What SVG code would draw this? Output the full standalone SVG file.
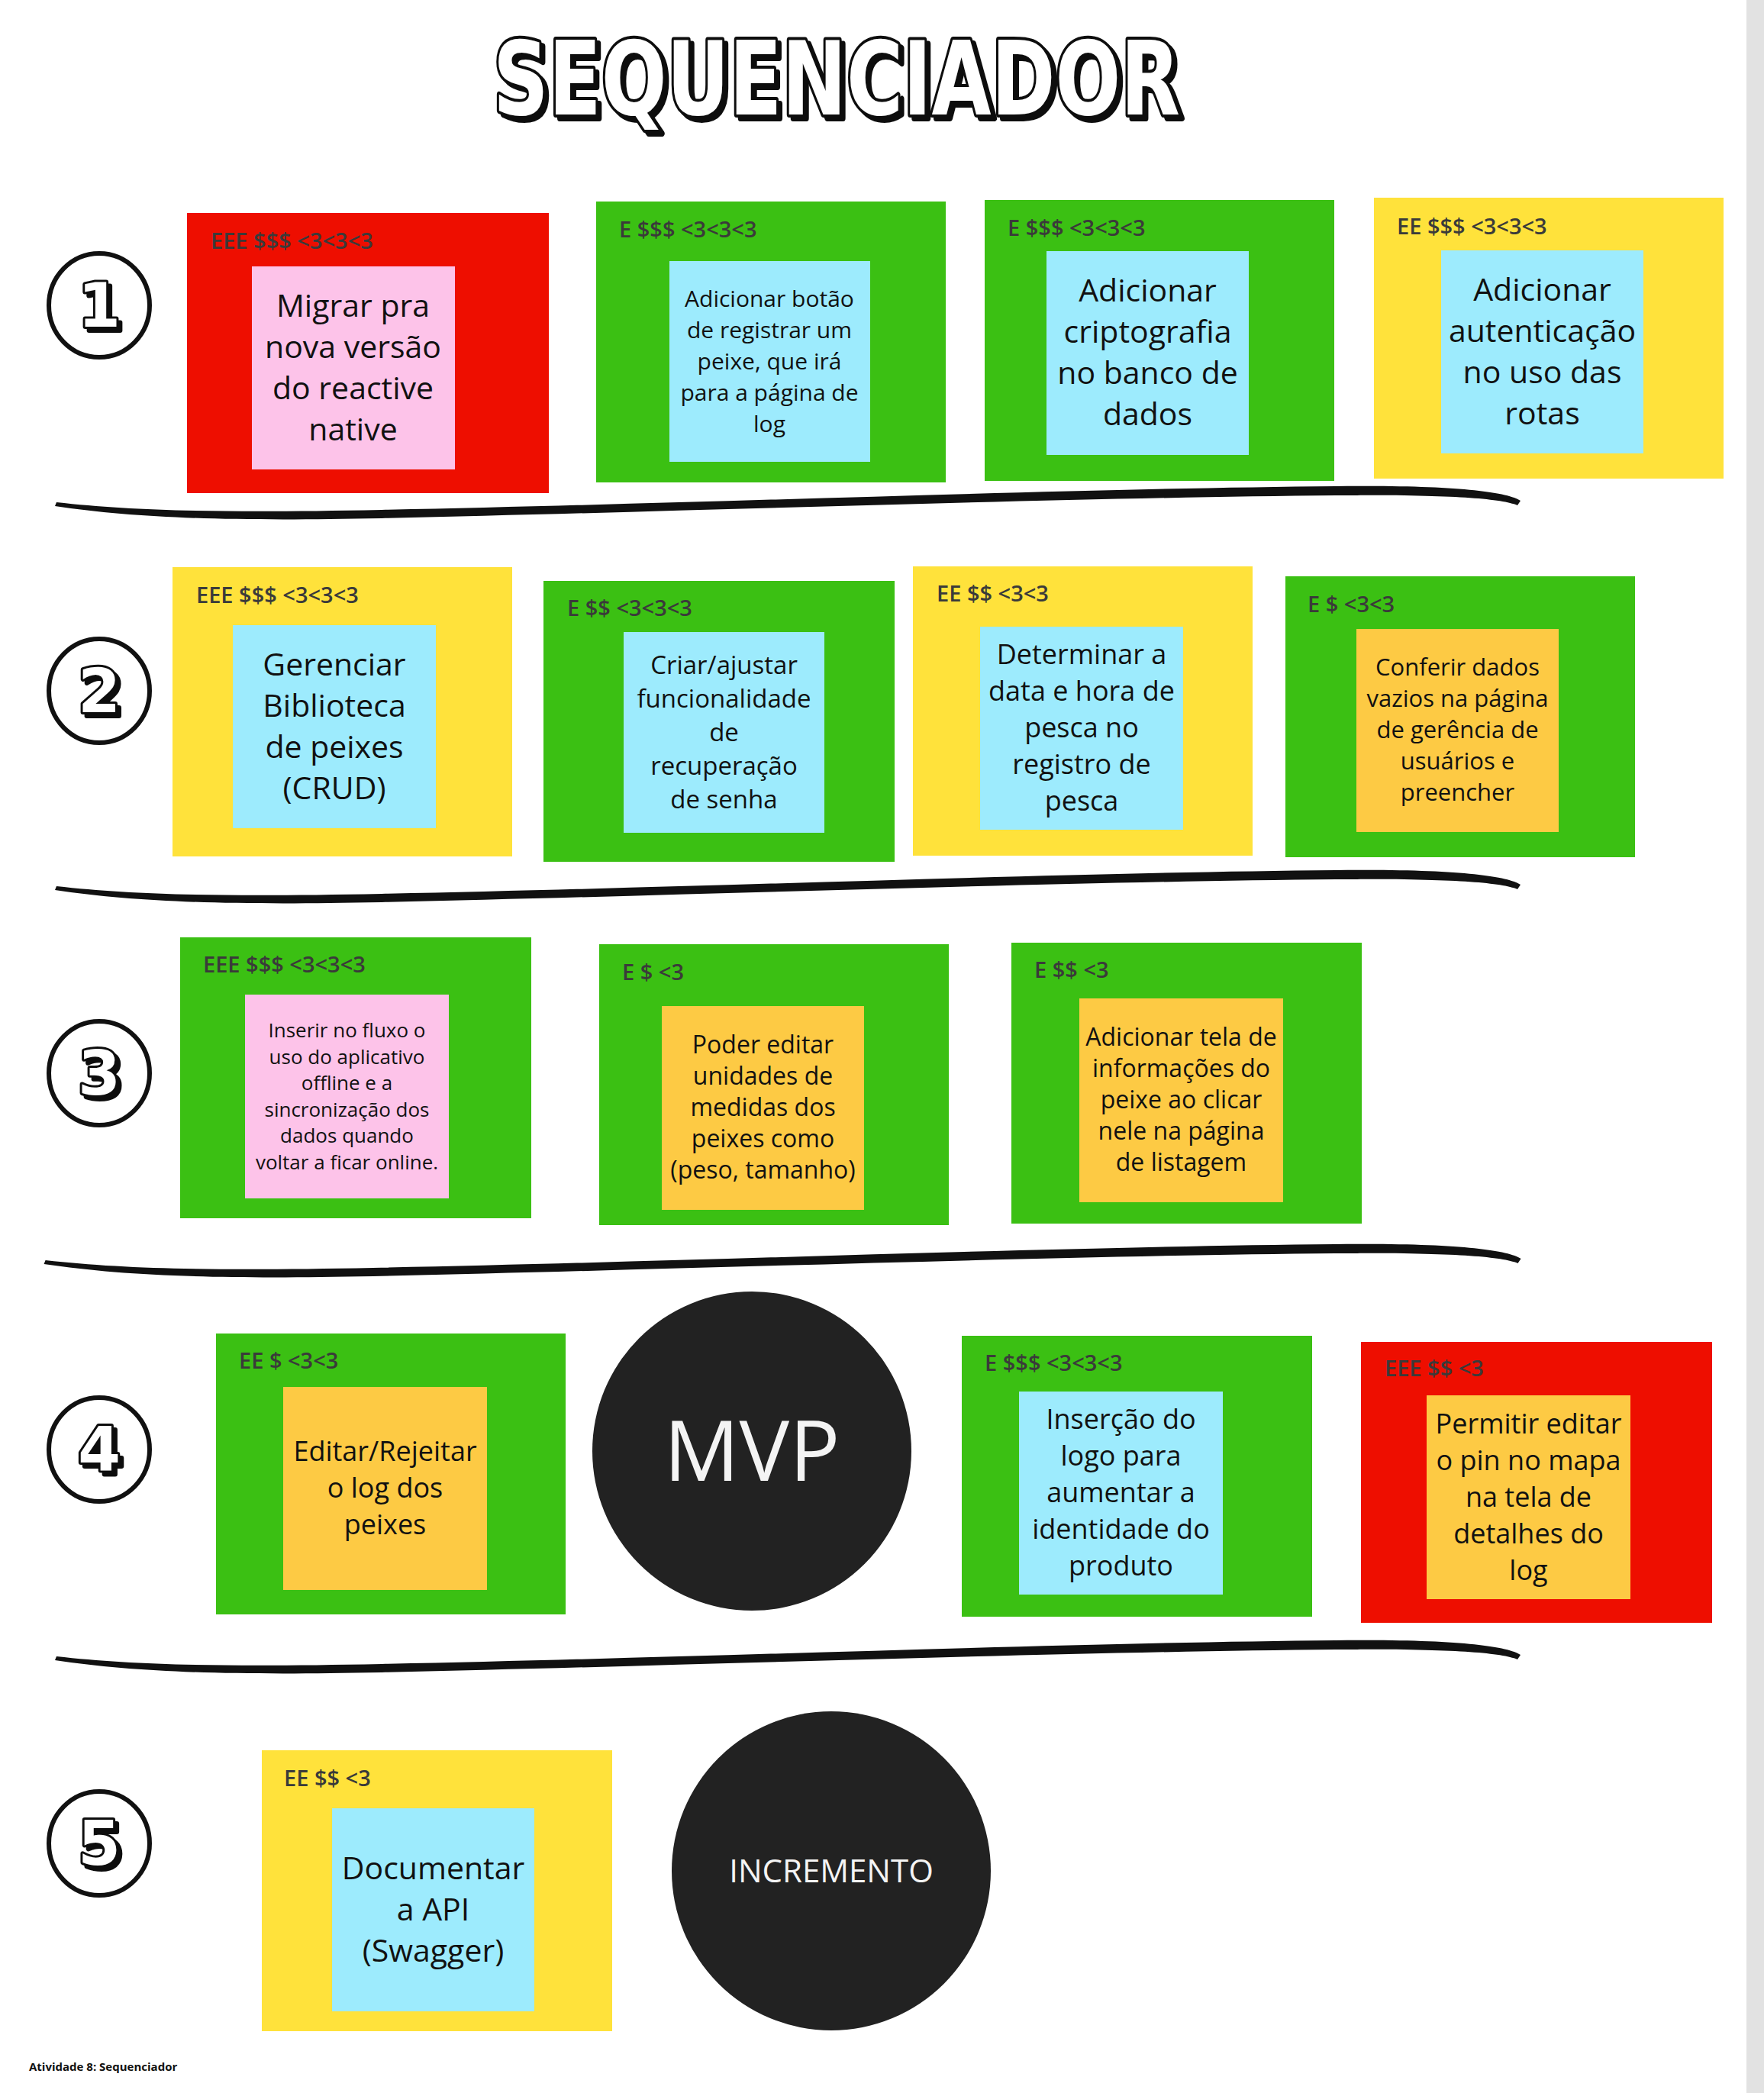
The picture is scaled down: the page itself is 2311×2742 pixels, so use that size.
<svg xmlns="http://www.w3.org/2000/svg" width="2311" height="2742" viewBox="0 0 2311 2742">
<style>
.red{fill:#EE0E00}.green{fill:#3BC013}.yellow{fill:#FFE23B}.cyan{fill:#9DEBFD}.pink{fill:#FDC3E9}.orange{fill:#FDCA44}
.lbl{font-family:"Open Sans","Liberation Sans",sans-serif;font-weight:600;font-size:29px;fill:#3a3a3a}
.txt{font-family:"Open Sans","Liberation Sans",sans-serif;fill:#111;text-anchor:middle}
.big{font-family:"Open Sans","Liberation Sans",sans-serif;fill:#f4f4f4;text-anchor:middle}
.num{font-family:"DejaVu Sans",sans-serif;font-weight:bold;font-size:80px;text-anchor:middle;fill:#fff;stroke:#111;stroke-width:6;stroke-linejoin:round;paint-order:stroke;filter:url(#shadow)}
.ring{fill:#fff;stroke:#111;stroke-width:6}
.disc{fill:#222}
.sep{fill:#111}
</style>
<defs>
<filter id="shadow" x="-20%" y="-20%" width="150%" height="150%">
<feOffset in="SourceAlpha" dx="5" dy="5" result="off"/>
<feFlood flood-color="#111"/>
<feComposite in2="off" operator="in" result="sh"/>
<feMerge><feMergeNode in="sh"/><feMergeNode in="SourceGraphic"/></feMerge>
</filter>
<path id="brush" d="M74,-2 C180,10 300,12 500,8 C900,0 1400,-20 1750,-23 C1900,-25 1975,-16 1992,-4 L1988,2 C1965,-7 1900,-12 1750,-11 C1400,-8 900,10 500,19 C300,23 180,19 72,3 Z"/>
</defs>
<rect x="2288" y="0" width="23" height="2742" fill="#e2e2e2"/>

<g id="title">
<text x="1096" y="150" font-family="DejaVu Sans, sans-serif" font-weight="bold" font-size="134" text-anchor="middle" textLength="900" lengthAdjust="spacingAndGlyphs" fill="#fff" stroke="#111" stroke-width="8" stroke-linejoin="round" paint-order="stroke" filter="url(#shadow)">SEQUENCIADOR</text>
</g>

<g id="separators">
<use href="#brush" transform="translate(0,660)" class="sep"/>
<use href="#brush" transform="translate(0,1163)" class="sep"/>
<use href="#brush" transform="translate(-15,1653) scale(1.0078,1)" class="sep"/>
<use href="#brush" transform="translate(0,2172)" class="sep"/>
</g>

<g id="step1"><ellipse cx="130" cy="400" rx="66" ry="68" class="ring"/><text x="130" y="428" class="num">1</text></g>
<g id="step2"><ellipse cx="130" cy="905" rx="66" ry="68" class="ring"/><text x="130" y="933" class="num">2</text></g>
<g id="step3"><ellipse cx="130" cy="1406" rx="66" ry="68" class="ring"/><text x="130" y="1434" class="num">3</text></g>
<g id="step4"><ellipse cx="130" cy="1899" rx="66" ry="68" class="ring"/><text x="130" y="1927" class="num">4</text></g>
<g id="step5"><ellipse cx="130" cy="2415" rx="66" ry="68" class="ring"/><text x="130" y="2443" class="num">5</text></g>

<!-- Row 1 -->
<g id="r1c1">
<rect x="245" y="279" width="474" height="367" class="red"/>
<text x="276" y="326" class="lbl">EEE $$$ &lt;3&lt;3&lt;3</text>
<rect x="330" y="349" width="266" height="266" class="pink"/>
<text x="462.5" y="414.5" class="txt" font-size="41"><tspan x="462.5">Migrar pra</tspan><tspan x="462.5" dy="54">nova versão</tspan><tspan x="462.5" dy="54">do reactive</tspan><tspan x="462.5" dy="54">native</tspan></text>
</g>
<g id="r1c2">
<rect x="781" y="264" width="458" height="368" class="green"/>
<text x="811" y="311" class="lbl">E $$$ &lt;3&lt;3&lt;3</text>
<rect x="877" y="342" width="263" height="263" class="cyan"/>
<text x="1008" y="401.5" class="txt" font-size="30"><tspan x="1008">Adicionar botão</tspan><tspan x="1008" dy="41">de registrar um</tspan><tspan x="1008" dy="41">peixe, que irá</tspan><tspan x="1008" dy="41">para a página de</tspan><tspan x="1008" dy="41">log</tspan></text>
</g>
<g id="r1c3">
<rect x="1290" y="262" width="458" height="368" class="green"/>
<text x="1320" y="309" class="lbl">E $$$ &lt;3&lt;3&lt;3</text>
<rect x="1371" y="329" width="265" height="267" class="cyan"/>
<text x="1503.5" y="395" class="txt" font-size="41"><tspan x="1503.5">Adicionar</tspan><tspan x="1503.5" dy="54">criptografia</tspan><tspan x="1503.5" dy="54">no banco de</tspan><tspan x="1503.5" dy="54">dados</tspan></text>
</g>
<g id="r1c4">
<rect x="1800" y="259" width="458" height="368" class="yellow"/>
<text x="1830" y="307" class="lbl">EE $$$ &lt;3&lt;3&lt;3</text>
<rect x="1888" y="328" width="265" height="266" class="cyan"/>
<text x="2020.5" y="393.5" class="txt" font-size="41"><tspan x="2020.5">Adicionar</tspan><tspan x="2020.5" dy="54">autenticação</tspan><tspan x="2020.5" dy="54">no uso das</tspan><tspan x="2020.5" dy="54">rotas</tspan></text>
</g>

<!-- Row 2 -->
<g id="r2c1">
<rect x="226" y="743" width="445" height="379" class="yellow"/>
<text x="257" y="790" class="lbl">EEE $$$ &lt;3&lt;3&lt;3</text>
<rect x="305" y="819" width="266" height="266" class="cyan"/>
<text x="438" y="884.5" class="txt" font-size="41"><tspan x="438">Gerenciar</tspan><tspan x="438" dy="54">Biblioteca</tspan><tspan x="438" dy="54">de peixes</tspan><tspan x="438" dy="54">(CRUD)</tspan></text>
</g>
<g id="r2c2">
<rect x="712" y="761" width="460" height="368" class="green"/>
<text x="743" y="807" class="lbl">E $$ &lt;3&lt;3&lt;3</text>
<rect x="817" y="828" width="263" height="263" class="cyan"/>
<text x="948.5" y="882.5" class="txt" font-size="33"><tspan x="948.5">Criar/ajustar</tspan><tspan x="948.5" dy="44">funcionalidade</tspan><tspan x="948.5" dy="44">de</tspan><tspan x="948.5" dy="44">recuperação</tspan><tspan x="948.5" dy="44">de senha</tspan></text>
</g>
<g id="r2c3">
<rect x="1196" y="742" width="445" height="379" class="yellow"/>
<text x="1227" y="788" class="lbl">EE $$ &lt;3&lt;3</text>
<rect x="1284" y="821" width="266" height="266" class="cyan"/>
<text x="1417" y="870" class="txt" font-size="36"><tspan x="1417">Determinar a</tspan><tspan x="1417" dy="48">data e hora de</tspan><tspan x="1417" dy="48">pesca no</tspan><tspan x="1417" dy="48">registro de</tspan><tspan x="1417" dy="48">pesca</tspan></text>
</g>
<g id="r2c4">
<rect x="1684" y="755" width="458" height="368" class="green"/>
<text x="1713" y="802" class="lbl">E $ &lt;3&lt;3</text>
<rect x="1777" y="824" width="265" height="266" class="orange"/>
<text x="1909.5" y="885" class="txt" font-size="31"><tspan x="1909.5">Conferir dados</tspan><tspan x="1909.5" dy="41">vazios na página</tspan><tspan x="1909.5" dy="41">de gerência de</tspan><tspan x="1909.5" dy="41">usuários e</tspan><tspan x="1909.5" dy="41">preencher</tspan></text>
</g>

<!-- Row 3 -->
<g id="r3c1">
<rect x="236" y="1228" width="460" height="368" class="green"/>
<text x="266" y="1274" class="lbl">EEE $$$ &lt;3&lt;3&lt;3</text>
<rect x="321" y="1303" width="267" height="267" class="pink"/>
<text x="454.5" y="1359" class="txt" font-size="26"><tspan x="454.5">Inserir no fluxo o</tspan><tspan x="454.5" dy="34.5">uso do aplicativo</tspan><tspan x="454.5" dy="34.5">offline e a</tspan><tspan x="454.5" dy="34.5">sincronização dos</tspan><tspan x="454.5" dy="34.5">dados quando</tspan><tspan x="454.5" dy="34.5">voltar a ficar online.</tspan></text>
</g>
<g id="r3c2">
<rect x="785" y="1237" width="458" height="368" class="green"/>
<text x="815" y="1284" class="lbl">E $ &lt;3</text>
<rect x="867" y="1318" width="265" height="267" class="orange"/>
<text x="999.5" y="1380" class="txt" font-size="32"><tspan x="999.5">Poder editar</tspan><tspan x="999.5" dy="41">unidades de</tspan><tspan x="999.5" dy="41">medidas dos</tspan><tspan x="999.5" dy="41">peixes como</tspan><tspan x="999.5" dy="41">(peso, tamanho)</tspan></text>
</g>
<g id="r3c3">
<rect x="1325" y="1235" width="459" height="368" class="green"/>
<text x="1355" y="1281" class="lbl">E $$ &lt;3</text>
<rect x="1414" y="1308" width="267" height="267" class="orange"/>
<text x="1547.5" y="1370" class="txt" font-size="32"><tspan x="1547.5">Adicionar tela de</tspan><tspan x="1547.5" dy="41">informações do</tspan><tspan x="1547.5" dy="41">peixe ao clicar</tspan><tspan x="1547.5" dy="41">nele na página</tspan><tspan x="1547.5" dy="41">de listagem</tspan></text>
</g>

<!-- Row 4 -->
<g id="r4c1">
<rect x="283" y="1747" width="458" height="368" class="green"/>
<text x="313" y="1793" class="lbl">EE $ &lt;3&lt;3</text>
<rect x="371" y="1817" width="267" height="266" class="orange"/>
<text x="504.5" y="1914" class="txt" font-size="36"><tspan x="504.5">Editar/Rejeitar</tspan><tspan x="504.5" dy="48">o log dos</tspan><tspan x="504.5" dy="48">peixes</tspan></text>
</g>
<g id="mvp">
<circle cx="985" cy="1901" r="209" class="disc"/>
<text x="985" y="1940" class="big" font-size="110">MVP</text>
</g>
<g id="r4c3">
<rect x="1260" y="1750" width="459" height="368" class="green"/>
<text x="1290" y="1796" class="lbl">E $$$ &lt;3&lt;3&lt;3</text>
<rect x="1335" y="1823" width="267" height="266" class="cyan"/>
<text x="1468.5" y="1872" class="txt" font-size="36"><tspan x="1468.5">Inserção do</tspan><tspan x="1468.5" dy="48">logo para</tspan><tspan x="1468.5" dy="48">aumentar a</tspan><tspan x="1468.5" dy="48">identidade do</tspan><tspan x="1468.5" dy="48">produto</tspan></text>
</g>
<g id="r4c4">
<rect x="1783" y="1758" width="460" height="368" class="red"/>
<text x="1814" y="1803" class="lbl">EEE $$ &lt;3</text>
<rect x="1869" y="1828" width="267" height="267" class="orange"/>
<text x="2002.5" y="1877.5" class="txt" font-size="36"><tspan x="2002.5">Permitir editar</tspan><tspan x="2002.5" dy="48">o pin no mapa</tspan><tspan x="2002.5" dy="48">na tela de</tspan><tspan x="2002.5" dy="48">detalhes do</tspan><tspan x="2002.5" dy="48">log</tspan></text>
</g>

<!-- Row 5 -->
<g id="r5c1">
<rect x="343" y="2293" width="459" height="368" class="yellow"/>
<text x="372" y="2340" class="lbl">EE $$ &lt;3</text>
<rect x="435" y="2369" width="265" height="266" class="cyan"/>
<text x="567.5" y="2461.5" class="txt" font-size="41"><tspan x="567.5">Documentar</tspan><tspan x="567.5" dy="54">a API</tspan><tspan x="567.5" dy="54">(Swagger)</tspan></text>
</g>
<g id="incremento">
<circle cx="1089" cy="2451" r="209" class="disc"/>
<text x="1089" y="2466" class="big" font-size="42">INCREMENTO</text>
</g>

<text x="38" y="2713" font-family="Open Sans, Liberation Sans, sans-serif" font-weight="bold" font-size="15" fill="#111">Atividade 8: Sequenciador</text>
</svg>
